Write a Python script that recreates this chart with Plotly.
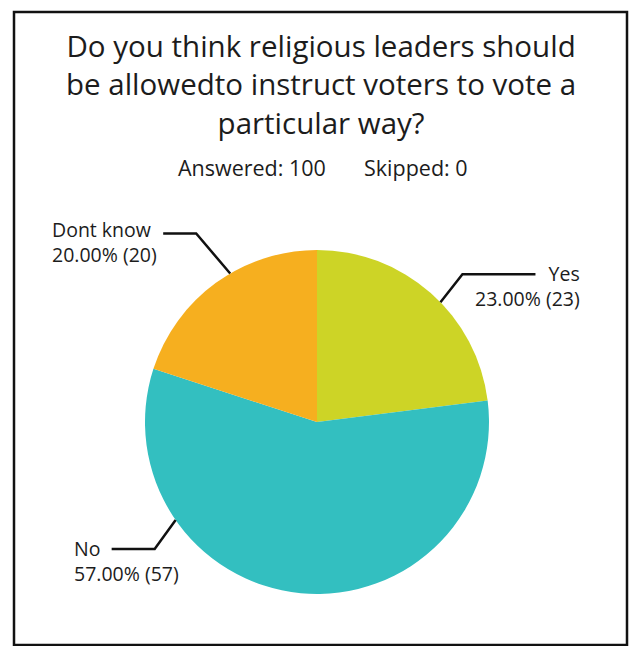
import math
import plotly.graph_objects as go

# Survey answers
labels = ["Yes", "No", "Dont know"]
counts = [23, 57, 20]
colors = ["#CDD426", "#33BFC0", "#F6AF1F"]

title_lines = [
    "Do you think religious leaders should",
    "be allowedto instruct voters to vote a",
    "particular way?",
]
answered = 100
skipped = 0

W, H = 631, 646
FONT = "Open Sans"
INK = "#1c1c1c"

# pie placement in pixels
cx, cy, R = 317, 422, 172

# leader-line layout: where on the slice arc the line starts (0..1 of sweep),
# offset of the elbow from that point, horizontal run, text offset from line end
leader_frac = [0.554, 0.743, 0.579]
elbow_dx = [22, -21, -34]
elbow_dy = [-28, 29, -40]
leader_run = [73, -43, -33]
text_dx = [47, -40, -113]
text_dy = [11.5, 11.5, 8]


def px(x):
    return x / W


def py(y):
    return 1 - y / H


def text(x, y, s, size, anchor="center"):
    return dict(x=px(x), y=py(y), xref="paper", yref="paper", text=s,
                showarrow=False, xanchor=anchor, yanchor="middle", align=anchor,
                font=dict(family=FONT, size=size, color=INK))


total = sum(counts)
fig = go.Figure(
    go.Pie(
        labels=labels,
        values=counts,
        marker=dict(colors=colors, line=dict(width=0)),
        sort=False,
        direction="clockwise",
        rotation=0,
        textinfo="none",
        hoverinfo="label+percent",
        showlegend=False,
        domain=dict(x=[px(cx - R), px(cx + R)], y=[py(cy + R), py(cy - R)]),
    )
)

shapes = []
annotations = []

# outer frame
shapes.append(dict(type="rect", xref="paper", yref="paper",
                   x0=px(14), x1=px(627), y0=py(645), y1=py(12),
                   line=dict(color="#111111", width=2.5)))

start = 0.0
for i, (lab, n) in enumerate(zip(labels, counts)):
    sweep = 360.0 * n / total
    ang = math.radians(start + leader_frac[i] * sweep)
    start += sweep
    sx, sy = cx + R * math.sin(ang), cy - R * math.cos(ang)
    ex, ey = sx + elbow_dx[i], sy + elbow_dy[i]
    hx = ex + leader_run[i]
    path = f"M {px(sx)} {py(sy)} L {px(ex)} {py(ey)} L {px(hx)} {py(ey)}"
    shapes.append(dict(type="path", xref="paper", yref="paper", path=path,
                       line=dict(color="#111111", width=2.5)))
    side = "right" if leader_run[i] > 0 else "left"
    label = f"{lab}<br>{100 * n / total:.2f}% ({n})"
    annotations.append(text(hx + text_dx[i], ey + text_dy[i], label, 19.5, side))

# title and response counts
annotations.append(text(321, 84, "<br>".join(title_lines), 29.5))
annotations.append(text(176, 167, f"Answered: {answered}", 21.5, "left"))
annotations.append(text(362, 167, f"Skipped: {skipped}", 21.5, "left"))

fig.update_layout(
    width=W, height=H,
    margin=dict(l=0, r=0, t=0, b=0),
    paper_bgcolor="white", plot_bgcolor="white",
    shapes=shapes, annotations=annotations,
)

fig.write_html("out.html")
